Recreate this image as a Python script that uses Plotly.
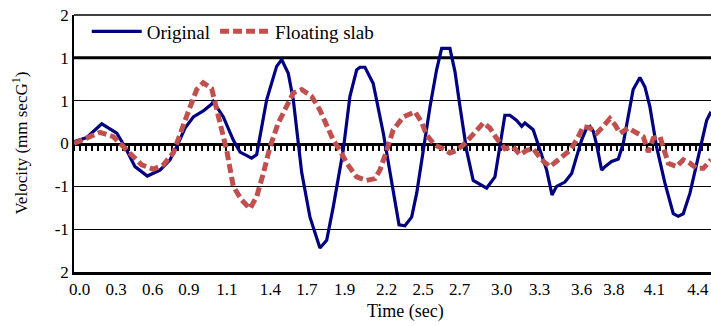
import plotly.graph_objects as go

# Time-axis labels and where they sit along the time axis (seconds)
time_labels = ["0.0", "0.3", "0.6", "0.9", "1.1", "1.4", "1.7", "1.9", "2.2",
               "2.5", "2.7", "3.0", "3.3", "3.6", "3.8", "4.1", "4.4"]
time_label_pos = [0.04, 0.30, 0.56, 0.82, 1.09, 1.40, 1.66, 1.93, 2.23,
                  2.49, 2.75, 3.05, 3.32, 3.62, 3.85, 4.14, 4.45]

# Velocity axis ticks and their printed labels
vel_ticks = [-1.5, -1.0, -0.5, 0.0, 0.5, 1.0, 1.5]
vel_labels = ["2", "-1", "-1", "0", "1", "1", "2"]

sample_step = 0.0435   # sampling interval (s)
t_end = 4.543

# Original track response
t_original = [0.000, 0.091, 0.198, 0.305, 0.364, 0.435, 0.523, 0.613, 0.685, 0.732,
              0.792, 0.851, 0.922, 0.982, 0.993, 1.065, 1.136, 1.184, 1.267, 1.303,
              1.374, 1.445, 1.481, 1.528, 1.564, 1.624, 1.683, 1.754, 1.802, 1.849,
              1.920, 1.968, 2.016, 2.039, 2.075, 2.134, 2.206, 2.253, 2.289, 2.318,
              2.360, 2.408, 2.444, 2.491, 2.539, 2.586, 2.622, 2.681, 2.717, 2.753,
              2.800, 2.847, 2.883, 2.943, 3.002, 3.038, 3.073, 3.109, 3.157, 3.193,
              3.216, 3.275, 3.323, 3.371, 3.409, 3.442, 3.501, 3.549, 3.585, 3.620,
              3.656, 3.680, 3.704, 3.728, 3.763, 3.787, 3.834, 3.882, 3.917, 3.953,
              3.988, 4.036, 4.072, 4.107, 4.155, 4.214, 4.274, 4.309, 4.345, 4.393,
              4.440, 4.476, 4.512, 4.543]
v_original = [0.02, 0.07, 0.23, 0.12, -0.04, -0.27, -0.38, -0.31, -0.19, -0.04,
              0.18, 0.31, 0.38, 0.46, 0.49, 0.31, 0.04, -0.10, -0.17, -0.13,
              0.51, 0.90, 0.98, 0.82, 0.51, -0.34, -0.86, -1.22, -1.13, -0.74,
              -0.08, 0.55, 0.86, 0.89, 0.89, 0.70, 0.12, -0.33, -0.70, -0.95,
              -0.96, -0.86, -0.58, -0.08, 0.43, 0.86, 1.11, 1.11, 0.84, 0.43,
              -0.08, -0.43, -0.46, -0.52, -0.39, -0.04, 0.33, 0.33, 0.27, 0.20,
              0.24, 0.16, -0.08, -0.31, -0.60, -0.50, -0.45, -0.35, -0.15, 0.04,
              0.18, 0.20, 0.14, -0.02, -0.31, -0.27, -0.21, -0.18, 0.00, 0.31,
              0.63, 0.77, 0.66, 0.43, -0.04, -0.46, -0.82, -0.85, -0.82, -0.58,
              -0.23, 0.04, 0.27, 0.37]

# Floating slab track response
t_floating = [0.000, 0.091, 0.185, 0.280, 0.352, 0.411, 0.483, 0.566, 0.637, 0.708,
              0.756, 0.815, 0.875, 0.922, 0.982, 1.029, 1.089, 1.136, 1.196, 1.255,
              1.303, 1.350, 1.398, 1.457, 1.517, 1.564, 1.624, 1.695, 1.754, 1.802,
              1.849, 1.897, 1.945, 2.016, 2.087, 2.146, 2.182, 2.230, 2.277, 2.348,
              2.432, 2.479, 2.515, 2.574, 2.633, 2.681, 2.729, 2.788, 2.847, 2.919,
              2.966, 3.014, 3.073, 3.133, 3.180, 3.228, 3.275, 3.335, 3.394, 3.442,
              3.489, 3.537, 3.585, 3.632, 3.680, 3.728, 3.775, 3.822, 3.858, 3.894,
              3.953, 4.013, 4.060, 4.096, 4.131, 4.179, 4.214, 4.238, 4.298, 4.345,
              4.393, 4.440, 4.488, 4.543]
v_floating = [0.00, 0.06, 0.13, 0.08, -0.04, -0.15, -0.25, -0.30, -0.25, -0.11,
              0.12, 0.37, 0.63, 0.71, 0.64, 0.31, -0.08, -0.50, -0.66, -0.76,
              -0.62, -0.35, -0.04, 0.24, 0.45, 0.59, 0.63, 0.55, 0.39, 0.20,
              0.04, -0.08, -0.23, -0.39, -0.43, -0.41, -0.31, -0.08, 0.16, 0.31,
              0.37, 0.25, 0.10, -0.02, -0.06, -0.11, -0.08, 0.00, 0.10, 0.24,
              0.18, 0.06, -0.06, -0.04, -0.13, -0.08, -0.06, -0.19, -0.27, -0.21,
              -0.15, -0.08, 0.04, 0.20, 0.18, 0.12, 0.20, 0.29, 0.22, 0.12,
              0.18, 0.12, 0.08, -0.10, 0.06, 0.08, -0.08, -0.23, -0.27, -0.19,
              -0.23, -0.29, -0.29, -0.19]

SERIF = "Liberation Serif, Times New Roman, serif"

fig = go.Figure()

# transparent copy bound to the zero-crossing axis so that axis gets drawn
fig.add_trace(go.Scatter(
    x=t_original, y=v_original, xaxis="x2", mode="lines", opacity=0,
    showlegend=False, hoverinfo="skip", line=dict(width=0),
))
fig.add_trace(go.Scatter(
    x=t_original, y=v_original, mode="lines", name="Original",
    line=dict(color="#000080", width=3.2),
))
fig.add_trace(go.Scatter(
    x=t_floating, y=v_floating, mode="lines", name="Floating slab",
    line=dict(color="#C0504D", width=5, dash="9px,4px"),
))

# heavier reference line at velocity 1.0 and the thin top border line
fig.add_shape(type="line", xref="paper", x0=0, x1=1, yref="y", y0=1.0, y1=1.0,
              line=dict(color="black", width=3), layer="below")
fig.add_shape(type="line", xref="paper", x0=0, x1=1, yref="paper", y0=1, y1=1,
              line=dict(color="black", width=1.5), layer="below")

fig.update_layout(
    width=711, height=326,
    margin=dict(l=74, r=0, t=15, b=54),
    paper_bgcolor="white", plot_bgcolor="white",
    font=dict(family=SERIF, color="black", size=17),
    showlegend=True,
    legend=dict(
        orientation="h", x=0.02, y=1.01, xanchor="left", yanchor="top",
        itemwidth=50, bgcolor="rgba(0,0,0,0)", font=dict(size=19, family=SERIF),
    ),
    xaxis=dict(
        range=[0, t_end], tickmode="array", tickvals=time_label_pos, ticktext=time_labels,
        showgrid=False, zeroline=False, showline=True, linewidth=3, linecolor="black",
        ticks="", tickfont=dict(size=17, family=SERIF),
    ),
    # axis crossing at zero velocity, with one tick per sample
    xaxis2=dict(
        overlaying="x", anchor="free", position=0.5, side="bottom",
        range=[0, t_end], tick0=0, dtick=sample_step,
        showgrid=False, zeroline=False, showline=True, linewidth=3, linecolor="black",
        ticks="outside", ticklen=5, tickwidth=1.5, tickcolor="black",
        showticklabels=False, layer="below traces",
    ),
    yaxis=dict(
        range=[-1.5, 1.5], tickmode="array", tickvals=vel_ticks, ticktext=vel_labels,
        showgrid=True, gridcolor="black", gridwidth=1.3, zeroline=False,
        showline=True, linewidth=1.5, linecolor="black", ticks="",
        tickfont=dict(size=17, family=SERIF),
    ),
    annotations=[
        dict(text="Time (sec)", xref="paper", yref="paper", x=0.52, y=-0.152,
             xanchor="center", yanchor="middle", showarrow=False,
             font=dict(size=18, family=SERIF)),
        dict(text="Velocity (mm secG<sup>1</sup>)", xref="paper", yref="paper",
             x=-0.0863, y=0.5, xanchor="center", yanchor="middle", textangle=-90,
             showarrow=False, font=dict(size=17, family=SERIF)),
    ],
)

fig.write_html("out.html")
